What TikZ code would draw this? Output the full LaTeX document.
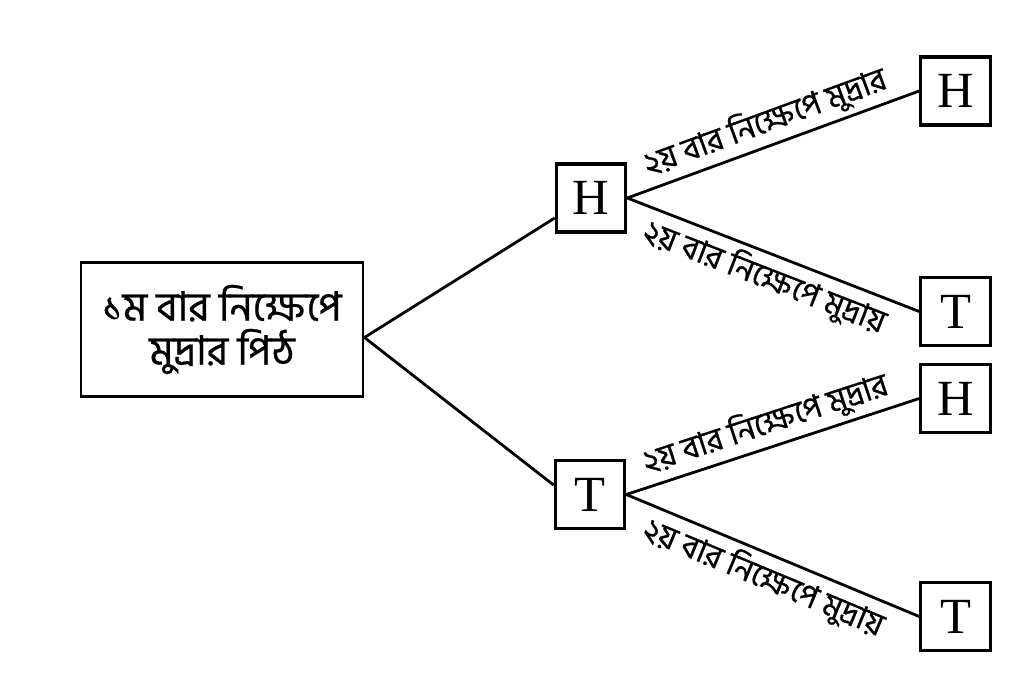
\documentclass[tikz,border=0pt]{standalone}
\usepackage{fontspec}
\setmainfont{Liberation Serif}
\newfontfamily\bn[Script=Bengali,FakeBold=0.6]{Hind Siliguri}
\begin{document}
\begin{tikzpicture}[x=0.75pt,y=-0.75pt,
  box/.style={draw,line width=2.4pt,inner sep=0pt,minimum width=52pt,minimum height=51pt,font=\fontsize{38}{40}\selectfont},
  rootbox/.style={draw,line width=2.2pt,inner sep=0pt,minimum width=211.5pt,minimum height=101pt,align=center,font=\bn\fontsize{30.5}{33}\selectfont},
  conn/.style={line width=2.1pt},
  lbl/.style={sloped,pos=0.5,font=\bn\fontsize{24}{26}\selectfont,inner sep=3.5pt}]
\useasboundingbox (0,0) rectangle (1024,677);
\node[rootbox] (root) at (222,329.5) {১ম বার নিক্ষেপে\\মুদ্রার পিঠ};
\node[box] (midH) at (591,198) {H};
\node[box] (midT) at (590,494.5) {T};
\node[box] (rH1) at (955.5,91) {H};
\node[box] (rT1) at (955.5,311.5) {T};
\node[box] (rH2) at (955.5,398.5) {H};
\node[box] (rT2) at (955.5,616.5) {T};
\draw[conn] ([yshift=-6pt]root.east) -- ([yshift=-15pt]midH.west);
\draw[conn] ([yshift=-6pt]root.east) -- ([yshift=7pt]midT.west);
\draw[conn] (midH.east) -- node[lbl,above] {২য় বার নিক্ষেপে মুদ্রার} (rH1.west);
\draw[conn] (midH.east) -- node[lbl,below] {২য় বার নিক্ষেপে মুদ্রায়} (rT1.west);
\draw[conn] (midT.east) -- node[lbl,above] {২য় বার নিক্ষেপে মুদ্রার} (rH2.west);
\draw[conn] (midT.east) -- node[lbl,below] {২য় বার নিক্ষেপে মুদ্রায়} (rT2.west);
\end{tikzpicture}
\end{document}
